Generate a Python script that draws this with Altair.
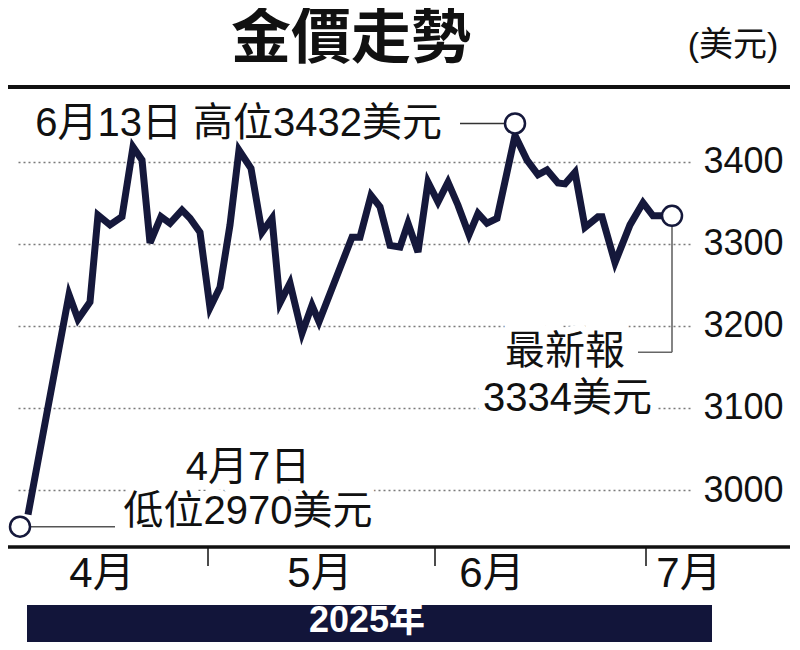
import altair as alt
import pandas as pd

# ---- data (x = trading-day position, y = USD/oz) ----
day = [0, 2.0, 4.1, 5.0, 6.2, 7.0, 8.2, 9.4, 10.5, 11.4,
       12.2, 13.3, 14.2, 15.4, 16.2, 17.2, 18.2, 19.2, 20.2, 21.1,
       22.3, 23.4, 24.4, 25.2, 26.2, 27.4, 28.4, 29.1, 32.4, 33.2,
       34.3, 35.2, 36.2, 37.2, 38.0, 39.0, 40.0, 41.0, 42.0, 43.0,
       44.1, 45.0, 45.9, 46.9, 48.7, 49.9, 51.0, 51.9, 53.0, 53.7,
       54.7, 55.7, 57.0, 57.4, 58.7, 60.2, 61.5, 62.5, 63.2, 64.4]
price = [2970, 3101, 3238, 3208, 3229, 3335, 3323, 3333, 3418, 3402,
         3301, 3333, 3325, 3341, 3331, 3314, 3222, 3247, 3323, 3414,
         3392, 3314, 3331, 3228, 3252, 3191, 3225, 3205, 3308, 3308,
         3359, 3345, 3298, 3296, 3325, 3290, 3375, 3351, 3375, 3347,
         3311, 3337, 3325, 3331, 3432, 3402, 3384, 3390, 3374, 3373,
         3387, 3320, 3333, 3333, 3277, 3323, 3350, 3334, 3334, 3334]

y_ticks = [3000, 3100, 3200, 3300, 3400]
month_bounds = [18.0, 40.7, 61.8]
month_names = ["4月", "5月", "6月", "7月"]
month_label_pos = [7.4, 29.2, 46.4, 66.1]

low_day, low_price = 0, 2970
high_day, high_price = 48.7, 3432
last_day, last_price = 64.4, 3334

ann_right_text = ["6月13日 高位3432美元", "最新報", "3334美元"]
ann_right_x = [41.4, 59.7, 62.4]
ann_right_y = [3446, 3168, 3111]
ann_center_text = ["4月7日", "低位2970美元"]
ann_center_x = [22.0, 22.0]
ann_center_y = [3027, 2973]

title_text = "金價走勢"
unit_text = "(美元)"
year_text = "2025年"

NAVY = "#15183b"
FONT = "Liberation Sans, Noto Sans CJK TC"
W, H = 673, 460

xs = alt.Scale(domain=[-1.1, 66.2], nice=False, zero=False)
ys = alt.Scale(domain=[2930.6, 3491.0], nice=False, zero=False)
yaxis = alt.Axis(orient="right", values=y_ticks, format="d", grid=True, ticks=False,
                 domain=False, labelFontSize=36, labelFont=FONT,
                 labelColor="#111", labelPadding=13,
                 gridDash=[2, 3], gridColor="#7a7a7a", gridWidth=1.6,
                 title=None)


def XQ(f):
    return alt.X(f, type="quantitative", scale=xs, axis=None)


def YQ(f):
    return alt.Y(f, type="quantitative", scale=ys, axis=yaxis)


df = pd.DataFrame({"day": day, "price": price})

base_grid = alt.Chart(df).mark_line(opacity=0).encode(x=XQ("day"), y=YQ("price"))

right_df = pd.DataFrame({"t": ann_right_text, "x": ann_right_x, "y": ann_right_y})
center_df = pd.DataFrame({"t": ann_center_text, "x": ann_center_x, "y": ann_center_y})


def txt(d, align, halo):
    if halo:
        m = alt.Chart(d).mark_text(align=align, baseline="middle", fontSize=40, font=FONT,
                                   color="white", stroke="white", strokeWidth=14)
    else:
        m = alt.Chart(d).mark_text(align=align, baseline="middle", fontSize=40, font=FONT,
                                   color="#111")
    return m.encode(x=XQ("x"), y=YQ("y"), text=alt.Text("t", type="nominal"))


line = alt.Chart(df).mark_line(color=NAVY, strokeWidth=7, strokeJoin="miter").encode(
    x=XQ("day"), y=YQ("price"))


def pt(d, p, xo=0, yo=0):
    return alt.Chart(pd.DataFrame({"day": [d], "price": [p]})).mark_point(
        shape="circle", filled=True, fill="white", stroke=NAVY, strokeWidth=2.5,
        size=400, opacity=1, xOffset=xo, yOffset=yo).encode(x=XQ("day"), y=YQ("price"))


def hrule(x1, x2, yv, color, yo=0):
    return alt.Chart(pd.DataFrame({"x": [x1], "x2": [x2], "y": [yv]})).mark_rule(
        color=color, strokeWidth=1.5, yOffset=yo).encode(
        x=XQ("x"), x2=alt.X2("x2"), y=YQ("y"))


conn_high = hrule(43.2, high_day, high_price, "#333", -12)
conn_low = hrule(-0.8, 8.7, low_price, "#555", 12)
conn_last_h = hrule(61.0, last_day, 3168, "#666")
conn_last_v = alt.Chart(pd.DataFrame({"x": [last_day], "y": [last_price], "y2": [3168]})).mark_rule(
    color="#666", strokeWidth=1.6).encode(x=XQ("x"), y=YQ("y"), y2=alt.Y2("y2"))

one = pd.DataFrame({"k": [1]})
top_rule = alt.Chart(one).mark_rule(color="#111", strokeWidth=4).encode(
    x=alt.value(-9), x2=alt.value(775), y=alt.value(0))
bottom_rule = alt.Chart(one).mark_rule(color="#111", strokeWidth=3.5).encode(
    x=alt.value(-9), x2=alt.value(775), y=alt.value(460))
sep = alt.Chart(pd.DataFrame({"x": month_bounds})).mark_rule(color="#111", strokeWidth=1.5).encode(
    x=XQ("x"), y=alt.value(460), y2=alt.value(479))
months = alt.Chart(pd.DataFrame({"x": month_label_pos, "t": month_names})).mark_text(
    fontSize=42, font=FONT, color="#111", baseline="middle", align="center").encode(
    x=XQ("x"), y=alt.value(487), text=alt.Text("t", type="nominal"))

band = alt.Chart(one).mark_rect(color="#12153a").encode(
    x=alt.value(10), x2=alt.value(695), y=alt.value(518), y2=alt.value(575))
year = alt.Chart(pd.DataFrame({"t": [year_text]})).mark_text(
    fontSize=36, font=FONT, fontWeight="bold", color="white", baseline="middle").encode(
    x=alt.value(350), y=alt.value(534), text=alt.Text("t", type="nominal"))
title = alt.Chart(pd.DataFrame({"t": [title_text]})).mark_text(
    fontSize=60, font=FONT, fontWeight="bold", color="#111", baseline="middle").encode(
    x=alt.value(334), y=alt.value(-47), text=alt.Text("t", type="nominal"))
unit = alt.Chart(pd.DataFrame({"t": [unit_text]})).mark_text(
    fontSize=34, font=FONT, color="#111", baseline="middle").encode(
    x=alt.value(716), y=alt.value(-41), text=alt.Text("t", type="nominal"))

chart = alt.layer(
    base_grid,
    txt(right_df, "right", True), txt(center_df, "center", True),
    conn_high, conn_low, conn_last_v, conn_last_h, line,
    pt(low_day, low_price, -8, 12), pt(high_day, high_price, 0, -12), pt(last_day, last_price),
    txt(right_df, "right", False), txt(center_df, "center", False),
    top_rule, bottom_rule, sep, months, band, year, title, unit
).properties(
    width=W, height=H, autosize=alt.AutoSizeParams(type="none"),
    padding={"left": 9, "top": 79, "right": 100, "bottom": 95},
    background="white"
).configure_view(strokeWidth=0)

chart.save("out.html", embed_options={"renderer": "svg", "actions": False})
